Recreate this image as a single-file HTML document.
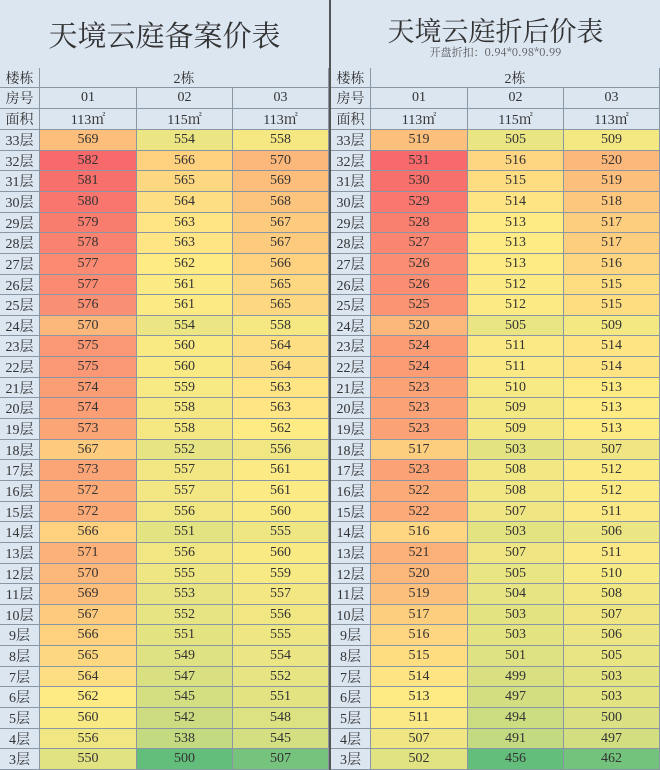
<!DOCTYPE html>
<html><head><meta charset="utf-8">
<style>
body{margin:0;width:660px;height:770px;overflow:hidden;background:#dce6f1;font-family:"Liberation Serif","Noto Serif CJK SC",serif;color:#333}
#root{position:relative;width:660px;height:770px}
.c{position:absolute;box-sizing:border-box;display:flex;align-items:center;justify-content:center;font-size:14px;border-right:1px solid #8a96a3;border-bottom:1px solid #8a96a3;white-space:nowrap}
.t{position:absolute;text-align:center;font-family:"Noto Serif CJK SC",serif}
</style></head><body>
<div id="root">
<div class="t" style="left:0;width:329px;top:14px;font-size:29px;">天境云庭备案价表</div>
<div class="t" style="left:331px;width:329px;top:10px;font-size:27px;">天境云庭折后价表</div>
<div class="t" style="left:331px;width:329px;top:44px;font-size:11px;color:#555">开盘折扣：0.94*0.98*0.99</div>
<div style="position:absolute;left:329px;top:0;width:2px;height:770px;background:#555"></div>
</div>
<script>
const floors=[33,32,31,30,29,28,27,26,25,24,23,22,21,20,19,18,17,16,15,14,13,12,11,10,9,8,7,6,5,4,3];
const L01=[569,582,581,580,579,578,577,577,576,570,575,575,574,574,573,567,573,572,572,566,571,570,569,567,566,565,564,562,560,556,550];
const L02=[554,566,565,564,563,563,562,561,561,554,560,560,559,558,558,552,557,557,556,551,556,555,553,552,551,549,547,545,542,538,500];
const L03=[558,570,569,568,567,567,566,565,565,558,564,564,563,563,562,556,561,561,560,555,560,559,557,556,555,554,552,551,548,545,507];
const R01=[519,531,530,529,528,527,526,526,525,520,524,524,523,523,523,517,523,522,522,516,521,520,519,517,516,515,514,513,511,507,502];
const R02=[505,516,515,514,513,513,513,512,512,505,511,511,510,509,509,503,508,508,507,503,507,505,504,503,503,501,499,497,494,491,456];
const R03=[509,520,519,518,517,517,516,515,515,509,514,514,513,513,513,507,512,512,511,506,511,510,508,507,506,505,503,503,500,497,462];
const units=["01","02","03"];
const areas=["113㎡","115㎡","113㎡"];
const root=document.getElementById('root');
function cell(x,y,w,h,txt,bg,name){
  const d=document.createElement('div');d.className='c';
  d.style.left=x+'px';d.style.top=y+'px';d.style.width=w+'px';d.style.height=h+'px';
  if(bg)d.style.background=bg;d.textContent=txt;
  
  
  root.appendChild(d);return d;
}
function lerp(a,b,t){return a.map((v,i)=>Math.round(v+(b[i]-v)*t));}
function scale(vals){
  const s=[...vals].sort((a,b)=>a-b);const mn=s[0],mx=s[s.length-1];
  const n=s.length;const md=(s[Math.floor((n-1)/2)]+s[Math.ceil((n-1)/2)])/2;
  const g=[99,190,123],y=[255,235,132],r=[248,105,107];
  return v=>{let c;if(v<=md)c=lerp(g,y,(v-mn)/(md-mn||1));else c=lerp(y,r,(v-md)/(mx-md||1));return `rgb(${c})`;};
}
function panel(x0,cols,side){
  const xs=[x0,x0+40,x0+137,x0+233,x0+329];
  const col=scale(cols.flat());
  cell(xs[0],68,40,20,'楼栋',null,side+'-building-label');
  cell(xs[1],68,289,20,'2栋',null,side+'-building-value');
  cell(xs[0],88,40,21,'房号',null,side+'-unit-label');
  cell(xs[0],109,40,21,'面积',null,side+'-area-label');
  for(let j=0;j<3;j++){
    cell(xs[j+1],88,xs[j+2]-xs[j+1],21,units[j],null,side+'-unit-'+units[j]);
    cell(xs[j+1],109,xs[j+2]-xs[j+1],21,areas[j],null,side+'-area-'+units[j]);
  }
  const top=130,rh=(770-130)/floors.length;
  floors.forEach((f,i)=>{
    const y=Math.round(top+i*rh),h=Math.round(top+(i+1)*rh)-y;
    cell(xs[0],y,40,h,f+'层',null,side+'-floor-'+f);
    for(let j=0;j<3;j++){
      const v=cols[j][i];
      const d=cell(xs[j+1],y,xs[j+2]-xs[j+1],h,v,col(v),side+'-price-'+f+'-'+units[j]);
    }
  });
}
panel(0,[L01,L02,L03],'left');
panel(331,[R01,R02,R03],'right');
</script>
</body></html>
